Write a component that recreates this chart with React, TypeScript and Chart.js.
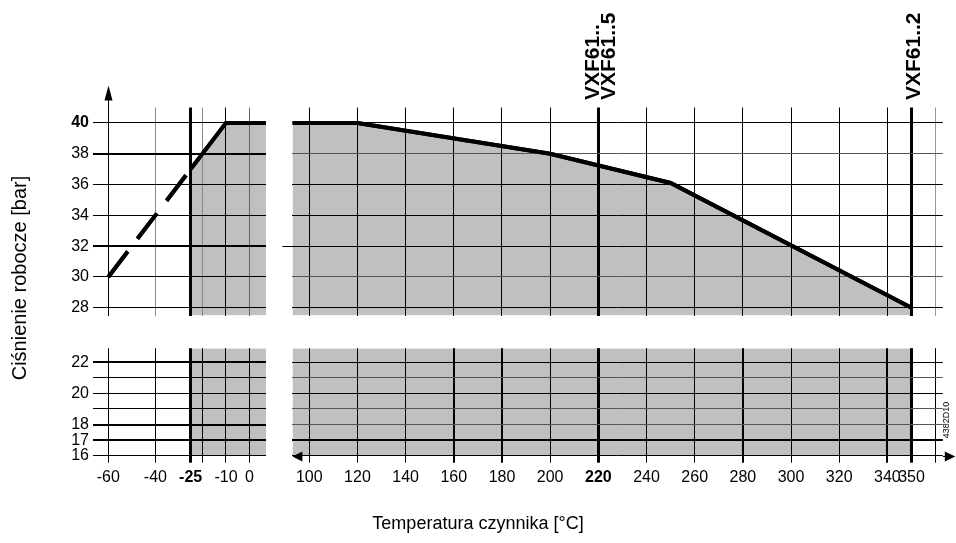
import React, { useEffect, useRef } from 'react';
import { Chart, registerables } from 'chart.js';

Chart.register(...registerables);

// ---------------- data ----------------
const LEFT_X_RANGE = [-66.5, 7];
const RIGHT_X_RANGE = [93, 363];
const UPPER_Y_RANGE = [27.5, 41];
const LOWER_Y_RANGE = [16, 22.9];

const LEFT_X_TICKS = [-60, -40, -25, -20, -10, 0];
const LEFT_X_LABELS = ['-60', '-40', '-25', '', '-10', '0'];
const RIGHT_X_TICKS = [100, 120, 140, 160, 180, 200, 220, 240, 260, 280, 300, 320, 340, 350, 360];
const RIGHT_X_LABELS = ['100', '120', '140', '160', '180', '200', '220', '240', '260', '280', '300', '320', '340', '350', ''];
const UPPER_Y_TICKS = [28, 30, 32, 34, 36, 38, 40];
const UPPER_Y_LABELS = ['28', '30', '32', '34', '36', '38', '40'];
const LOWER_Y_TICKS = [16, 17, 18, 19, 20, 21, 22];
const LOWER_Y_LABELS = ['16', '17', '18', '', '20', '', '22'];
const BOLD_X = [-25, 220];
const BOLD_Y = [40];

const DASHED_TEMPS = [-60, -25];
const DASHED_PRESSURES = [30, 37];
const LEFT_TEMPS = [-25, -10, 7];
const LEFT_PRESSURES = [37, 40, 40];
const RIGHT_TEMPS = [93, 120, 200, 250, 350];
const RIGHT_PRESSURES = [40, 40, 38, 36.1, 28];
const LEFT_BAND = [-25, 7];
const RIGHT_BAND = [93, 350];
const VALVE_TEMPS = [220, 220, 350];
const VALVE_LABELS = ['VXF61..', 'VXF61..5', 'VXF61..2'];

const X_TITLE = 'Temperatura czynnika [°C]';
const Y_TITLE = 'Ciśnienie robocze [bar]';
const DOC_CODE = '4382D10';

// ---------------- styling ----------------
const W = 956;
const H = 543;
const FONT = "'Liberation Sans', Arial, Helvetica, sans-serif";
const GRAY = '#c0c0c0';

type Box = { l: number; r: number; t: number; b: number };
type Style = Record<string, [string, number]>;

const zip = (xs: number[], ys: number[]) => xs.map((x, i) => ({ x, y: ys[i] }));

// redraw the curve strokes above the grid (grid is drawn above the grey fill)
const redrawLines = {
  id: 'redrawLines',
  afterDraw(chart: any) {
    const ctx = chart.ctx;
    const a = chart.chartArea;
    ctx.save();
    ctx.beginPath();
    ctx.rect(a.left, a.top, a.right - a.left, a.bottom - a.top);
    ctx.clip();
    chart.data.datasets.forEach((ds: any, i: number) => {
      if (ds.borderWidth > 0) {
        const meta = chart.getDatasetMeta(i);
        if (meta.dataset) meta.dataset.draw(ctx, a);
      }
    });
    ctx.restore();
  },
};

function makeConfig(p: {
  box: Box;
  xRange: number[];
  yRange: number[];
  xTicks: number[];
  yTicks: number[];
  xLabels: string[] | null;
  yLabels: string[] | null;
  xStyle: Style;
  yStyle: Style;
  yStub?: number;
  datasets: any[];
  plugins: any[];
}) {
  const st = (s: Style, v: number) => s[String(v)] || ['#000', 1];
  return {
    type: 'line',
    data: { datasets: p.datasets },
    plugins: [redrawLines, ...p.plugins],
    options: {
      animation: false,
      responsive: false,
      devicePixelRatio: 1,
      events: [],
      layout: { padding: { left: 0, right: W - p.box.r, top: p.box.t, bottom: 0 } },
      plugins: { legend: { display: false }, tooltip: { enabled: false } },
      elements: { point: { radius: 0 }, line: { tension: 0 } },
      scales: {
        x: {
          type: 'linear',
          position: 'bottom',
          min: p.xRange[0],
          max: p.xRange[1],
          afterBuildTicks: (s: any) => {
            s.ticks = p.xTicks.map((v) => ({ value: v }));
          },
          afterFit: (s: any) => {
            s.height = H - p.box.b;
          },
          border: { display: false },
          grid: {
            z: 1,
            color: (c: any) => st(p.xStyle, c.tick ? c.tick.value : 0)[0],
            lineWidth: (c: any) => st(p.xStyle, c.tick ? c.tick.value : 0)[1],
            drawTicks: !!p.xLabels,
            tickLength: 7,
          },
          ticks: {
            display: !!p.xLabels,
            autoSkip: false,
            maxRotation: 0,
            minRotation: 0,
            padding: 5,
            color: '#000',
            font: (c: any) => ({
              family: FONT,
              size: 16,
              weight: c.tick && BOLD_X.includes(c.tick.value) ? 'bold' : 'normal',
            }),
            callback: (_v: any, i: number) => (p.xLabels ? p.xLabels[i] : ''),
          },
        },
        y: {
          type: 'linear',
          position: 'left',
          min: p.yRange[0],
          max: p.yRange[1],
          afterBuildTicks: (s: any) => {
            s.ticks = p.yTicks.map((v) => ({ value: v }));
          },
          afterFit: (s: any) => {
            s.width = p.box.l;
          },
          border: { display: false },
          grid: {
            z: 1,
            color: (c: any) => st(p.yStyle, c.tick ? c.tick.value : 0)[0],
            lineWidth: (c: any) => st(p.yStyle, c.tick ? c.tick.value : 0)[1],
            drawTicks: p.yStub !== undefined,
            tickLength: 10,
            tickColor: (c: any) => (c.tick && c.tick.value === p.yStub ? '#000' : 'rgba(0,0,0,0)'),
          },
          ticks: {
            display: !!p.yLabels,
            autoSkip: false,
            padding: 4,
            color: '#000',
            font: (c: any) => ({
              family: FONT,
              size: 16,
              weight: c.tick && BOLD_Y.includes(c.tick.value) ? 'bold' : 'normal',
            }),
            callback: (_v: any, i: number) => (p.yLabels ? p.yLabels[i] : ''),
          },
        },
      },
    },
  };
}

const UPPER_BOX_T = 107.5;
const UPPER_BOX_B = 315.5;
const LOWER_BOX_T = 348.2;
const LOWER_BOX_B = 455.7;
const LEFT_BOX_L = 93;
const LEFT_BOX_R = 266;
const RIGHT_BOX_L = 292.4;
const RIGHT_BOX_R = 942.8;

const yAxisArrow = {
  id: 'yAxisArrow',
  afterDraw(chart: any) {
    const ctx = chart.ctx;
    const x = Math.round(chart.scales.x.getPixelForValue(LEFT_X_TICKS[0])) + 0.5;
    const top = chart.chartArea.top;
    ctx.save();
    ctx.strokeStyle = '#000';
    ctx.lineWidth = 1;
    ctx.beginPath();
    ctx.moveTo(x, top - 9);
    ctx.lineTo(x, top + 1);
    ctx.stroke();
    ctx.fillStyle = '#000';
    ctx.beginPath();
    ctx.moveTo(x, top - 22);
    ctx.lineTo(x - 4, top - 7);
    ctx.lineTo(x + 4, top - 7);
    ctx.closePath();
    ctx.fill();
    ctx.restore();
  },
};

const valveLabels = {
  id: 'valveLabels',
  afterDraw(chart: any) {
    const ctx = chart.ctx;
    const offsets = [0.5, 16.5, 9];
    const yStart = chart.chartArea.top - 7.5;
    ctx.save();
    ctx.fillStyle = '#000';
    ctx.font = `bold 21px ${FONT}`;
    ctx.textAlign = 'left';
    ctx.textBaseline = 'alphabetic';
    VALVE_TEMPS.forEach((t, i) => {
      const x = chart.scales.x.getPixelForValue(t) + offsets[i];
      ctx.save();
      ctx.translate(x, yStart);
      ctx.rotate(-Math.PI / 2);
      ctx.fillText(VALVE_LABELS[i], 0, 0);
      ctx.restore();
    });
    ctx.restore();
  },
};

const decorations = {
  id: 'decorations',
  afterDraw(chart: any) {
    const ctx = chart.ctx;
    const a = chart.chartArea;
    const y = Math.round(chart.scales.y.getPixelForValue(LOWER_Y_TICKS[0])) + 0.5;
    ctx.save();
    ctx.strokeStyle = '#000';
    ctx.fillStyle = '#000';
    ctx.lineWidth = 1;
    // temperature axis extension and arrows
    ctx.beginPath();
    ctx.moveTo(a.right, y);
    ctx.lineTo(a.right + 6, y);
    ctx.stroke();
    ctx.beginPath();
    ctx.moveTo(a.right + 12.5, y);
    ctx.lineTo(a.right + 2, y - 5);
    ctx.lineTo(a.right + 2, y + 5);
    ctx.closePath();
    ctx.fill();
    ctx.beginPath();
    ctx.moveTo(a.left, y);
    ctx.lineTo(a.left + 10, y - 5);
    ctx.lineTo(a.left + 10, y + 5);
    ctx.closePath();
    ctx.fill();

    // axis titles
    ctx.textAlign = 'center';
    ctx.textBaseline = 'middle';
    ctx.font = `18px ${FONT}`;
    ctx.fillText(X_TITLE, 478, 524);
    ctx.font = `20px ${FONT}`;
    ctx.save();
    ctx.translate(20, 278);
    ctx.rotate(-Math.PI / 2);
    ctx.fillText(Y_TITLE, 0, 0);
    ctx.restore();

    // document code
    ctx.font = `9px ${FONT}`;
    ctx.save();
    ctx.translate(947, 420);
    ctx.rotate(-Math.PI / 2);
    ctx.fillText(DOC_CODE, 0, 0);
    ctx.restore();
    ctx.restore();
  },
};

const configs = [
  // upper-left
  makeConfig({
    box: { l: LEFT_BOX_L, r: LEFT_BOX_R, t: UPPER_BOX_T, b: UPPER_BOX_B },
    xRange: LEFT_X_RANGE,
    yRange: UPPER_Y_RANGE,
    xTicks: LEFT_X_TICKS,
    yTicks: UPPER_Y_TICKS,
    xLabels: null,
    yLabels: UPPER_Y_LABELS,
    xStyle: { '-40': ['#888', 1], '-25': ['#000', 3], '-20': ['#888', 1], '0': ['#666', 1] },
    yStyle: { '38': ['#000', 2], '32': ['#000', 2] },
    datasets: [
      {
        data: zip(LEFT_TEMPS, LEFT_PRESSURES),
        borderColor: '#000',
        borderWidth: 4,
        backgroundColor: GRAY,
        fill: 'start',
        borderJoinStyle: 'miter',
      },
      {
        data: zip(DASHED_TEMPS, DASHED_PRESSURES),
        borderColor: '#000',
        borderWidth: 4,
        borderDash: [32, 16],
        borderCapStyle: 'butt',
        fill: false,
      },
    ],
    plugins: [yAxisArrow],
  }),
  // upper-right
  makeConfig({
    box: { l: RIGHT_BOX_L, r: RIGHT_BOX_R, t: UPPER_BOX_T, b: UPPER_BOX_B },
    xRange: RIGHT_X_RANGE,
    yRange: UPPER_Y_RANGE,
    xTicks: RIGHT_X_TICKS,
    yTicks: UPPER_Y_TICKS,
    xLabels: null,
    yLabels: null,
    xStyle: { '220': ['#000', 3], '350': ['#000', 3], '360': ['#999', 1] },
    yStyle: { '30': ['#555', 1], '38': ['#555', 1] },
    yStub: 32,
    datasets: [
      {
        data: zip(RIGHT_TEMPS, RIGHT_PRESSURES),
        borderColor: '#000',
        borderWidth: 4,
        backgroundColor: GRAY,
        fill: 'start',
        borderJoinStyle: 'miter',
      },
    ],
    plugins: [valveLabels],
  }),
  // lower-left
  makeConfig({
    box: { l: LEFT_BOX_L, r: LEFT_BOX_R, t: LOWER_BOX_T, b: LOWER_BOX_B },
    xRange: LEFT_X_RANGE,
    yRange: LOWER_Y_RANGE,
    xTicks: LEFT_X_TICKS,
    yTicks: LOWER_Y_TICKS,
    xLabels: LEFT_X_LABELS,
    yLabels: LOWER_Y_LABELS,
    xStyle: { '-25': ['#000', 3] },
    yStyle: { '22': ['#000', 2], '18': ['#000', 2], '17': ['#000', 2] },
    datasets: [
      {
        data: LEFT_BAND.map((t) => ({ x: t, y: LOWER_Y_RANGE[1] })),
        borderWidth: 0,
        borderColor: 'rgba(0,0,0,0)',
        backgroundColor: GRAY,
        fill: 'start',
      },
    ],
    plugins: [],
  }),
  // lower-right
  makeConfig({
    box: { l: RIGHT_BOX_L, r: RIGHT_BOX_R, t: LOWER_BOX_T, b: LOWER_BOX_B },
    xRange: RIGHT_X_RANGE,
    yRange: LOWER_Y_RANGE,
    xTicks: RIGHT_X_TICKS,
    yTicks: LOWER_Y_TICKS,
    xLabels: RIGHT_X_LABELS,
    yLabels: null,
    xStyle: {
      '160': ['#000', 2],
      '180': ['#000', 2],
      '280': ['#000', 2],
      '340': ['#000', 2],
      '220': ['#000', 3],
      '350': ['#000', 3],
    },
    yStyle: { '17': ['#000', 2], '21': ['#555', 1], '19': ['#555', 1], '18': ['#555', 1] },
    datasets: [
      {
        data: RIGHT_BAND.map((t) => ({ x: t, y: LOWER_Y_RANGE[1] })),
        borderWidth: 0,
        borderColor: 'rgba(0,0,0,0)',
        backgroundColor: GRAY,
        fill: 'start',
      },
    ],
    plugins: [decorations],
  }),
];

function Panel({ config }: { config: any }) {
  const ref = useRef<HTMLCanvasElement>(null);
  useEffect(() => {
    const chart = new Chart(ref.current as HTMLCanvasElement, config);
    return () => chart.destroy();
  }, [config]);
  return (
    <canvas
      ref={ref}
      width={W}
      height={H}
      style={{ position: 'absolute', left: 0, top: 0, width: W, height: H }}
    />
  );
}

export default function App() {
  return (
    <div style={{ position: 'absolute', left: 0, top: 0, width: W, height: H, background: '#fff' }}>
      {configs.map((c, i) => (
        <Panel key={i} config={c} />
      ))}
    </div>
  );
}
